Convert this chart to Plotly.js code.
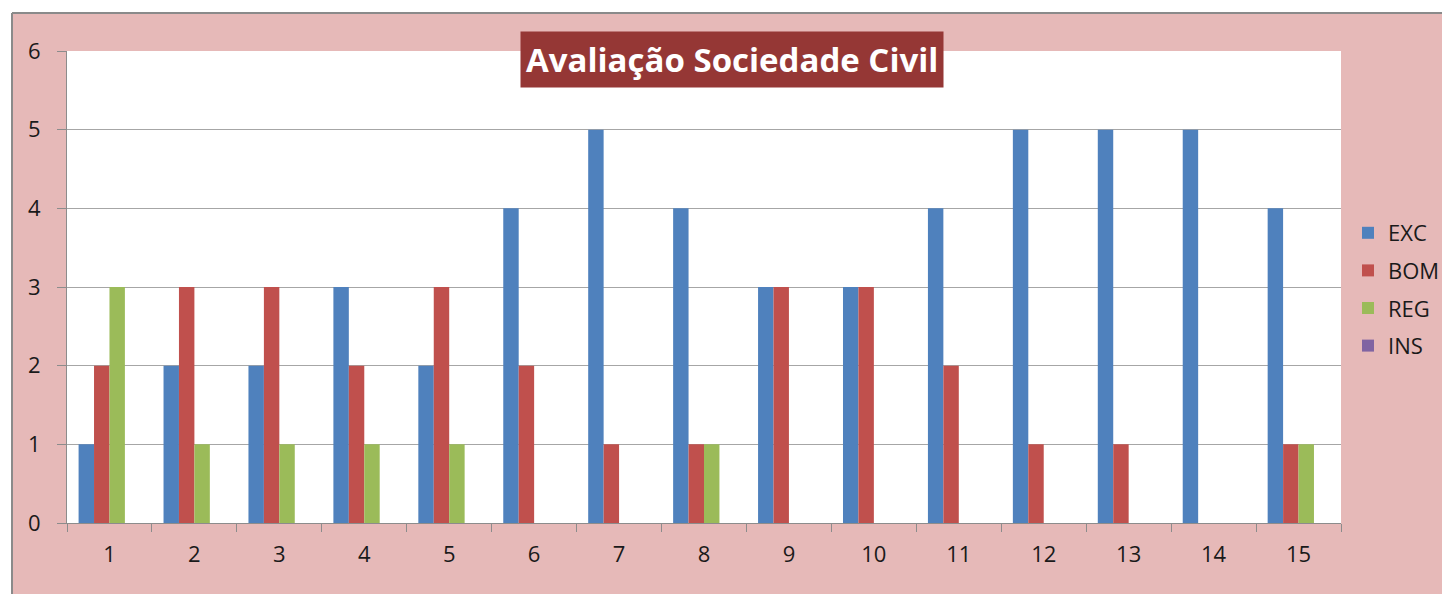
<!DOCTYPE html>
<html>
<head>
<meta charset="utf-8">
<script src="https://cdn.plot.ly/plotly-3.0.1.min.js"></script>
<style>
  html, body { margin: 0; padding: 0; background: #ffffff; overflow: hidden; }
  #chart { width: 1442px; height: 594px; }
</style>
</head>
<body>
<div id="chart"></div>
<script>
const categories = ['1','2','3','4','5','6','7','8','9','10','11','12','13','14','15'];
const seriesNames = ['EXC', 'BOM', 'REG', 'INS'];
const excValues = [1, 2, 2, 3, 2, 4, 5, 4, 3, 3, 4, 5, 5, 5, 4];
const bomValues = [2, 3, 3, 2, 3, 2, 1, 1, 3, 3, 2, 1, 1, 0, 1];
const regValues = [3, 1, 1, 1, 1, 0, 0, 1, 0, 0, 0, 0, 0, 0, 1];
const insValues = [0, 0, 0, 0, 0, 0, 0, 0, 0, 0, 0, 0, 0, 0, 0];
const yTicks = [0, 1, 2, 3, 4, 5, 6];
const titleText = 'Avaliação Sociedade Civil';

const colors = ['#4F81BD', '#C0504D', '#9BBB59', '#8064A2'];
const allValues = [excValues, bomValues, regValues, insValues];

const W = 1442, H = 594;
const L = 67, R = 1341, T = 51, B = 523;
const pw = R - L, ph = B - T;
const px = x => (x - L) / pw;
const py = y => (B - y) / ph;

const data = seriesNames.map((name, i) => ({
  type: 'bar',
  name: name,
  x: categories,
  y: allValues[i],
  marker: { color: colors[i], line: { width: 0 } },
  legendgroup: name,
  hoverinfo: 'x+y+name'
}));

const font = { family: '"Open Sans", "Noto Sans", sans-serif', size: 22, color: '#1a1a1a' };

const layout = {
  width: W, height: H,
  margin: { l: L, r: W - R, t: T, b: H - B, pad: 0, autoexpand: false },
  paper_bgcolor: '#E6B9B8',
  plot_bgcolor: 'rgba(0,0,0,0)',
  font: font,
  barmode: 'group',
  bargap: 0.273,
  bargroupgap: 0,
  showlegend: true,
  legend: {
    x: px(1348), xanchor: 'left',
    y: py(212), yanchor: 'top',
    bgcolor: 'rgba(0,0,0,0)',
    font: font,
    tracegroupgap: 6,
    traceorder: 'grouped'
  },
  xaxis: {
    type: 'category',
    categoryorder: 'array',
    categoryarray: categories,
    showgrid: false,
    showline: true,
    linecolor: '#8c8c8c',
    linewidth: 1,
    ticks: 'outside',
    tickson: 'boundaries',
    ticklen: 8,
    tickcolor: '#8c8c8c',
    tickfont: font,
    ticklabelstandoff: 12,
    zeroline: false,
    fixedrange: true
  },
  yaxis: {
    range: [0, 6],
    tickvals: yTicks,
    ticktext: yTicks.map(String),
    showgrid: true,
    gridcolor: '#a6a6a6',
    gridwidth: 1,
    showline: true,
    linecolor: '#8c8c8c',
    linewidth: 1,
    ticks: 'outside',
    ticklen: 9,
    tickcolor: '#8c8c8c',
    tickfont: font,
    ticklabelstandoff: 12,
    zeroline: false,
    fixedrange: true
  },
  shapes: [
    {
      type: 'rect', xref: 'paper', yref: 'paper', layer: 'below',
      x0: px(-10), x1: px(1460), y0: py(13), y1: py(-10),
      fillcolor: '#ffffff',
      line: { width: 0 }
    },
    {
      type: 'rect', xref: 'paper', yref: 'paper', layer: 'below',
      x0: px(-10), x1: px(12), y0: py(620), y1: py(-10),
      fillcolor: '#ffffff',
      line: { width: 0 }
    },
    {
      type: 'line', xref: 'paper', yref: 'paper', layer: 'below',
      x0: px(12), x1: px(1460), y0: py(13), y1: py(13),
      line: { color: '#8a8a8a', width: 2 }
    },
    {
      type: 'line', xref: 'paper', yref: 'paper', layer: 'below',
      x0: px(12), x1: px(12), y0: py(13), y1: py(620),
      line: { color: '#8a8a8a', width: 2 }
    },
    {
      type: 'rect', xref: 'paper', yref: 'paper', layer: 'below',
      x0: 0, x1: 1, y0: 0, y1: 1,
      fillcolor: '#ffffff',
      line: { width: 0 }
    }
  ],
  annotations: [
    {
      text: '<b>' + titleText + '</b>',
      xref: 'paper', yref: 'paper',
      x: px(732), y: py(60),
      xanchor: 'center', yanchor: 'middle',
      showarrow: false,
      bgcolor: '#953735',
      borderpad: 5,
      font: { family: '"Open Sans", "Noto Sans", sans-serif', size: 33, color: '#ffffff' }
    }
  ]
};

Plotly.newPlot('chart', data, layout, { displayModeBar: false, responsive: false });
</script>
</body>
</html>
